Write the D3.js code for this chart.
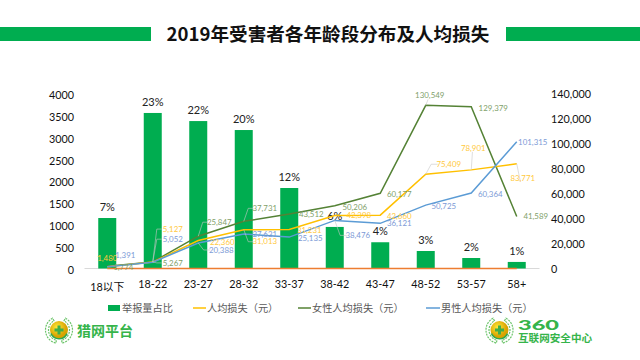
<!DOCTYPE html>
<html><head><meta charset="utf-8">
<script src="https://cdn.jsdelivr.net/npm/d3@7"></script>
<style>html,body{margin:0;background:#fff}svg{display:block}
text{font-family:Lato,"Noto Sans CJK SC",sans-serif}</style></head>
<body><svg id="c" width="640" height="360"></svg>
<script>
const title = "2019年受害者各年龄段分布及人均损失";
const categories = ["18以下","18-22","23-27","28-32","33-37","38-42","43-47","48-52","53-57","58+"];
const reportCount = [1154,3555,3370,3165,1840,950,600,400,240,150];
const reportPct = ["7%","23%","22%","20%","12%","6%","4%","3%","2%","1%"];
const avgLoss = [1480,5127,22360,31013,31231,42398,42660,75409,78901,83771];
const femaleLoss = [1774,5267,25847,37731,43512,50206,60177,130549,129379,41589];
const maleLoss = [1391,5052,20388,27631,25135,38476,36121,50725,60364,101315];
const zeroSeries = [0,0,0,0,0,0,0,0,0,0];
const leftTicks = [0,500,1000,1500,2000,2500,3000,3500,4000];
const rightTicks = [0,20000,40000,60000,80000,100000,120000,140000];
const legendNames = ["举报量占比","人均损失（元）","女性人均损失（元）","男性人均损失（元）"];

const GREEN="#00AD50", YEL="#FFC000", OLV="#548235", BLU="#5B9BD5", ORG="#ED7D31";
const svg=d3.select("#c");
const x=d3.scaleBand().domain(categories).range([84.5,539.5]);
const yL=d3.scaleLinear().domain([0,4000]).range([268.5,93.5]);
const yR=d3.scaleLinear().domain([0,140000]).range([268.5,93.5]);
const cx=c=>x(c)+x.bandwidth()/2;

// header
[[0,151],[506,134]].forEach(([a,w])=>svg.append("rect").attr("x",a).attr("y",27).attr("width",w).attr("height",14).attr("fill",GREEN));
svg.append("text").attr("x",328).attr("y",41).attr("text-anchor","middle").attr("font-size",18.6).attr("font-weight",700)
  .attr("fill","#111").style("font-family",'"Noto Sans CJK SC"').text(title);

// axes
const axL=svg.append("g").attr("transform","translate(78,1.5)").call(d3.axisLeft(yL).tickValues(leftTicks).tickSize(0).tickPadding(4).tickFormat(d3.format("d")));
const axR=svg.append("g").attr("transform","translate(547,1)").call(d3.axisRight(yR).tickValues(rightTicks).tickSize(0).tickPadding(4).tickFormat(d3.format(",")));
const axB=svg.append("g").attr("transform","translate(0,269.5)").call(d3.axisBottom(x).tickSize(0).tickPadding(11));
[axL,axR,axB].forEach(a=>{a.select(".domain").remove();a.selectAll("text").attr("font-size",10.8).attr("fill","#111").style("font-family",'Lato,"Noto Sans CJK SC"');});
axB.selectAll("text").filter(d=>d===categories[0]).attr("dy","1.0em");
svg.append("line").attr("x1",84.5).attr("x2",539.5).attr("y1",268.5).attr("y2",268.5).attr("stroke","#D9D9D9");

// bars
const bw=18;
svg.selectAll(".bar").data(categories).join("rect").attr("x",c=>cx(c)-bw/2).attr("width",bw)
  .attr("y",(c,i)=>yL(reportCount[i])).attr("height",(c,i)=>yL(0)-yL(reportCount[i])).attr("fill",GREEN);
svg.selectAll(".pct").data(categories).join("text").attr("x",c=>cx(c)).attr("y",(c,i)=>yL(reportCount[i])-7)
  .attr("text-anchor","middle").attr("font-size",11).attr("fill","#222").text((c,i)=>reportPct[i]);

// lines
const line=d3.line().x((v,i)=>cx(categories[i])).y(v=>yR(v));
[[zeroSeries,ORG],[femaleLoss,OLV],[avgLoss,YEL],[maleLoss,BLU]].forEach(([s,col])=>
  svg.append("path").attr("d",line(s)).attr("fill","none").attr("stroke",col).attr("stroke-width",1.5));

// data labels: [dx,dy,leader?] relative to the point
const labelOffsets=[
 {s:avgLoss,col:"#FFC93C",o:[[0,-8],[20,-33,1],[24,1.5],[21,12,1],[20,.5],[24,0],[19,1],[23,-10,1],[2,-22,1],[6,14,1]]},
 {s:femaleLoss,col:"#7F9F6A",o:[[16,1],[20,1,1],[21,-14,1],[21,-13,1],[22,0],[20,1],[19,1],[4,-10,1],[22,1],[19,0]]},
 {s:maleLoss,col:"#7C9AD6",o:[[18,-12],[20,-23,1],[23,7,1],[21,0],[21,1],[23,15,1],[19,0],[18,1],[19,1],[16,0]]}
];
labelOffsets.forEach(({s,col,o})=>s.forEach((v,i)=>{
  const px=cx(categories[i]),py=yR(v),[dx,dy,lead]=o[i];
  if(lead){
    const tw=Math.abs(dx)>10?dx-11:dx;
    const pts=Math.abs(dx)>10?[[px,py],[px+tw*.45,py+dy],[px+tw,py+dy]]:[[px,py],[px+dx*.6,py+dy+4]];
    svg.append("path").attr("d",d3.line()(pts)).attr("fill","none").attr("stroke","#C8C8C8").attr("stroke-width",.6);
  }
  svg.append("text").attr("x",px+dx).attr("y",py+dy).attr("dy","0.35em").attr("text-anchor","middle")
    .attr("font-size",7.9).attr("fill",col).text(d3.format(",")(v));
}));

// legend
const legX=[108,193,298,426], legKinds=[GREEN,YEL,OLV,BLU], legW=[13,13,13,14];
legendNames.forEach((n,i)=>{
  if(i===0) svg.append("rect").attr("x",legX[i]).attr("y",305).attr("width",12).attr("height",6).attr("fill",legKinds[i]);
  else svg.append("line").attr("x1",legX[i]).attr("x2",legX[i]+legW[i]).attr("y1",308).attr("y2",308).attr("stroke",legKinds[i]).attr("stroke-width",1.5);
  svg.append("text").attr("x",legX[i]+legW[i]+1).attr("y",311.5).attr("font-size",10.2).attr("fill","#595959").style("font-family",'"Noto Sans CJK SC"').text(n);
});

// logos
function badge(cx0,cy0){
  const g=svg.append("g").attr("transform",`translate(${cx0},${cy0})`);
  const grad=svg.append("defs").append("radialGradient").attr("id","g"+cx0).attr("cx",.4).attr("cy",.35);
  grad.append("stop").attr("offset",0).attr("stop-color","#FFE93B");
  grad.append("stop").attr("offset",1).attr("stop-color","#D8A200");
  [-1,1].forEach(side=>{
    g.append("path").attr("d",d3.arc()({innerRadius:10.5,outerRadius:13.5,startAngle:side*0.5,endAngle:side*2.9}))
     .attr("fill","none").attr("stroke","#6CC46A").attr("stroke-width",1.2).attr("stroke-dasharray","2 1");
  });
  g.append("circle").attr("r",9).attr("fill",`url(#g${cx0})`);
  g.append("path").attr("d",d3.arc()({innerRadius:8,outerRadius:9.6,startAngle:2,endAngle:4.3})).attr("fill","#2FA84F");
  g.append("path").attr("d","M-4.5,-1.5H-1.5V-4.5H1.5V-1.5H4.5V1.5H1.5V4.5H-1.5V1.5H-4.5Z").attr("fill","#3FAE49");
}
badge(59,330); badge(499.5,330);
svg.append("text").attr("x",77).attr("y",335.5).attr("font-size",14).attr("font-weight",700).attr("fill","#35B44A").style("font-family",'"Noto Sans CJK SC"').text("猎网平台");
svg.append("text").attr("x",518).attr("y",329.5).attr("font-size",14).attr("font-weight",900).attr("fill","#35B44A").attr("textLength",41).attr("lengthAdjust","spacingAndGlyphs").style("font-family","Lato").text("360");
svg.append("text").attr("x",518).attr("y",341.5).attr("font-size",10.6).attr("font-weight",700).attr("fill","#35B44A").style("font-family",'"Noto Sans CJK SC"').text("互联网安全中心");
</script></body></html>
